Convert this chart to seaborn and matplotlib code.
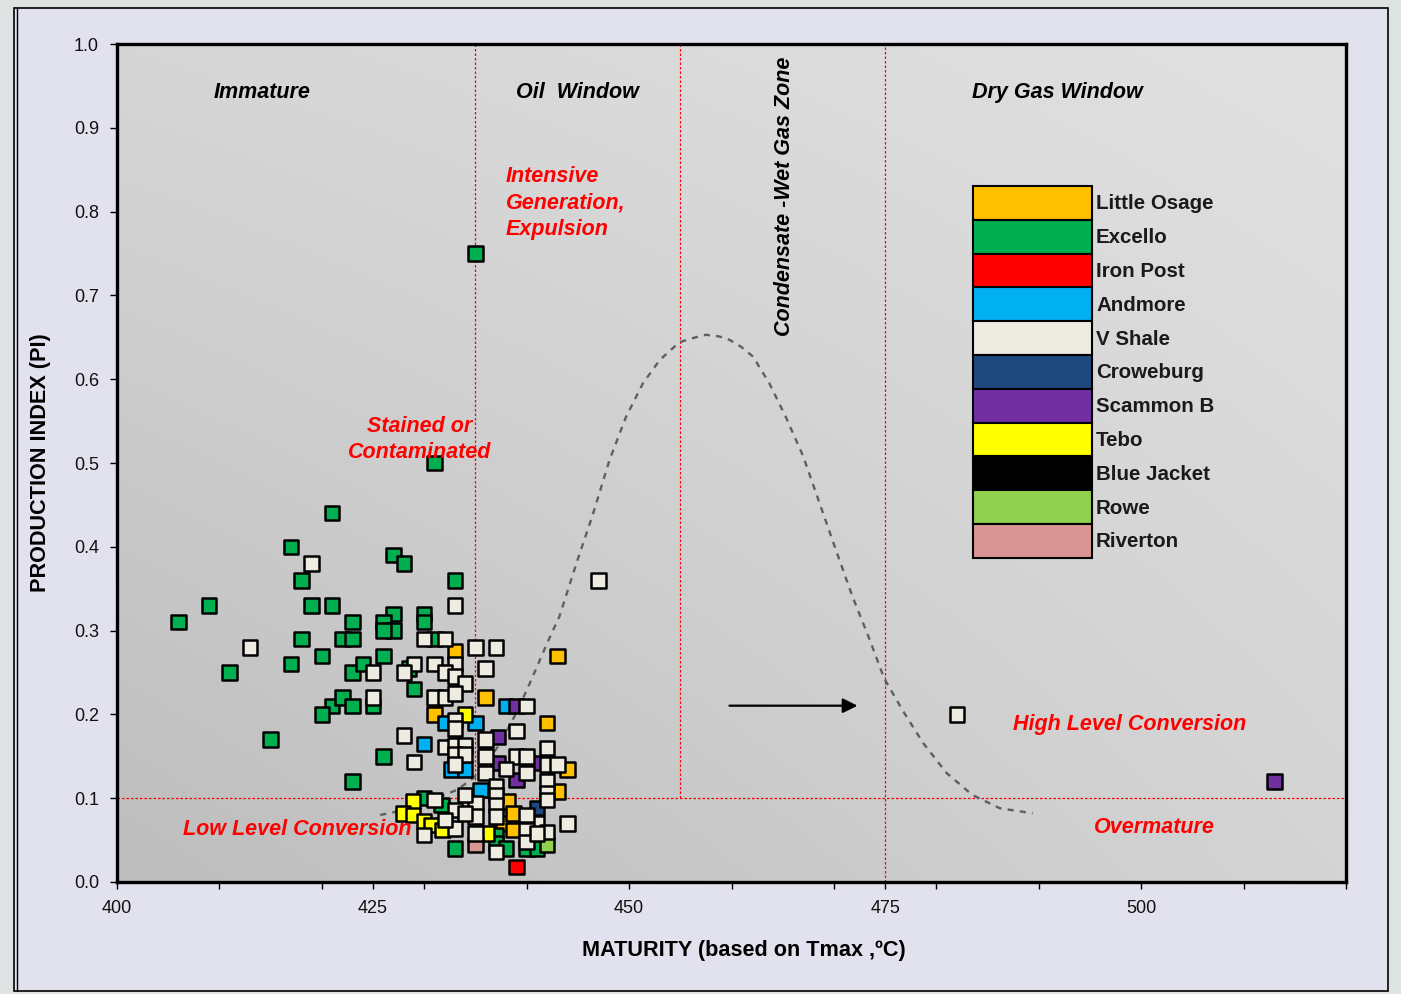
import numpy as np
import pandas as pd
import matplotlib
matplotlib.use("Agg")
import matplotlib.pyplot as plt
from matplotlib.patches import Patch, Rectangle
from matplotlib.lines import Line2D
import seaborn as sns

# ---------------- data ----------------
formations = ["Little Osage", "Excello", "Iron Post", "Andmore", "V Shale", "Croweburg",
              "Scammon B", "Tebo", "Blue Jacket", "Rowe", "Riverton"]
formation_colors = ["#FFC000", "#00B050", "#FF0000", "#00B0F0", "#EEECE1", "#1F497D",
                    "#7030A0", "#FFFF00", "#000000", "#92D050", "#D99694"]

little_osage_tmax = [443, 433, 431, 436, 442, 444, 443, 438.2, 437.7, 438.7, 438.7]
little_osage_pi = [0.27, 0.275, 0.20, 0.22, 0.19, 0.134, 0.108, 0.096, 0.07, 0.082, 0.062]

excello_tmax = [421, 417, 418, 419, 421, 409, 406, 423, 418, 422, 423, 420, 417, 411, 423, 424,
                426, 421, 422, 423, 420, 425, 415, 426, 423, 435, 431, 433, 427, 428, 427, 426,
                427, 426, 430, 430, 431, 429, 430, 431.7, 433, 437, 437, 438, 440, 441, 428.5]
excello_pi = [0.44, 0.40, 0.36, 0.33, 0.33, 0.33, 0.31, 0.31, 0.29, 0.29, 0.29, 0.27, 0.26, 0.25,
              0.25, 0.26, 0.27, 0.21, 0.22, 0.21, 0.20, 0.21, 0.17, 0.15, 0.12, 0.75, 0.50, 0.36,
              0.39, 0.38, 0.32, 0.31, 0.30, 0.30, 0.32, 0.31, 0.29, 0.23, 0.10, 0.092, 0.04, 0.056,
              0.046, 0.04, 0.04, 0.04, 0.255]

iron_post_tmax = [439]
iron_post_pi = [0.018]

andmore_tmax = [438, 432, 435, 430, 432.6, 434, 435.5]
andmore_pi = [0.21, 0.19, 0.19, 0.165, 0.134, 0.134, 0.11]

v_shale_tmax = [419, 413, 425, 425, 433, 447, 482, 430, 432, 435, 437, 429, 428, 431, 433, 432,
                436, 433, 434, 431, 432, 433, 433, 433, 440, 439, 436, 428, 442, 432, 433, 434,
                429, 433, 434, 433, 436, 436, 439, 440, 438, 440, 442, 442, 442, 442, 443, 444,
                441, 442, 440, 440, 440, 437, 437, 437, 437, 437, 435, 435, 435, 433, 433, 432,
                434, 434, 431, 430, 441]
v_shale_pi = [0.38, 0.28, 0.25, 0.22, 0.33, 0.36, 0.20, 0.29, 0.29, 0.28, 0.28, 0.26, 0.25, 0.26,
              0.26, 0.25, 0.255, 0.245, 0.237, 0.22, 0.22, 0.225, 0.193, 0.183, 0.21, 0.18, 0.17,
              0.175, 0.16, 0.161, 0.163, 0.163, 0.143, 0.152, 0.152, 0.14, 0.15, 0.13, 0.15, 0.15,
              0.135, 0.13, 0.14, 0.12, 0.106, 0.098, 0.14, 0.07, 0.07, 0.06, 0.08, 0.062, 0.048,
              0.036, 0.114, 0.104, 0.092, 0.078, 0.094, 0.078, 0.058, 0.086, 0.064, 0.074, 0.104,
              0.082, 0.098, 0.056, 0.058]

croweburg_tmax = [441]
croweburg_pi = [0.088]

scammon_b_tmax = [439, 437.2, 437.2, 439, 440.9, 513]
scammon_b_pi = [0.21, 0.173, 0.142, 0.122, 0.142, 0.12]

tebo_tmax = [434, 428.9, 427.9, 428.9, 430, 430.7, 431.8, 436.1]
tebo_pi = [0.20, 0.096, 0.082, 0.08, 0.072, 0.068, 0.062, 0.058]

blue_jacket_tmax = []
blue_jacket_pi = []

rowe_tmax = [442]
rowe_pi = [0.044]

riverton_tmax = [435]
riverton_pi = [0.044]

# schematic generation curve
curve_tmax = [425.7, 427.3, 430.2, 433.2, 434.9, 436.1, 437.4, 439.0, 440.3, 442.0, 443.2, 444.85,
              446.5, 448.1, 449.7, 451.35, 453.0, 454.9, 456.2, 457.5, 458.8, 459.8, 460.9, 462.1,
              463.7, 465.3, 467.0, 468.6, 470.2, 471.8, 473.5, 474.9, 476.7, 478.7, 481.0, 483.5,
              486.2, 489.4]
curve_pi = [0.080, 0.084, 0.095, 0.110, 0.125, 0.143, 0.165, 0.202, 0.237, 0.285, 0.317, 0.380,
            0.440, 0.504, 0.555, 0.595, 0.623, 0.644, 0.649, 0.653, 0.651, 0.647, 0.639, 0.627,
            0.595, 0.555, 0.508, 0.452, 0.396, 0.341, 0.289, 0.243, 0.205, 0.166, 0.130, 0.104,
            0.088, 0.082]

zone_lines_full = [475]
zone_lines_partial = [435, 455]
pi_threshold = 0.1
arrow_tail = (459.8, 0.2104)
arrow_head = (472.3, 0.2104)

x_ticks = [400, 410, 420, 425, 430, 440, 450, 460, 470, 475, 480, 490, 500, 510, 520]
x_labeled = [400, 425, 450, 475, 500]
y_ticks = [0.0, 0.1, 0.2, 0.3, 0.4, 0.5, 0.6, 0.7, 0.8, 0.9, 1.0]

# ---------------- build table ----------------
series = {
    "Little Osage": (little_osage_tmax, little_osage_pi),
    "Excello": (excello_tmax, excello_pi),
    "Andmore": (andmore_tmax, andmore_pi),
    "Scammon B": (scammon_b_tmax, scammon_b_pi),
    "Tebo": (tebo_tmax, tebo_pi),
    "Rowe": (rowe_tmax, rowe_pi),
    "Riverton": (riverton_tmax, riverton_pi),
    "Croweburg": (croweburg_tmax, croweburg_pi),
    "Iron Post": (iron_post_tmax, iron_post_pi),
    "Blue Jacket": (blue_jacket_tmax, blue_jacket_pi),
    "V Shale": (v_shale_tmax, v_shale_pi),
}
rows = []
for name, (xs, ys) in series.items():
    for xv, yv in zip(xs, ys):
        rows.append({"tmax": xv, "pi": yv, "formation": name})
df = pd.DataFrame(rows)
palette = dict(zip(formations, formation_colors))

# ---------------- style ----------------
sns.set_style("ticks")
plt.rcParams["font.family"] = ["Liberation Sans", "DejaVu Sans"]
plt.rcParams["text.color"] = "black"
plt.rcParams["axes.labelcolor"] = "black"
plt.rcParams["xtick.color"] = "black"
plt.rcParams["ytick.color"] = "black"

fig = plt.figure(figsize=(14.01, 9.94), dpi=100)
fig.patch.set_facecolor("#dde2e2")
fig.patches.append(Rectangle((14 / 1401, 3 / 994), (1388 - 14) / 1401, (986 - 3) / 994,
                             transform=fig.transFigure, facecolor="#e2e2ef",
                             edgecolor="black", linewidth=1.2, zorder=-10))
fig.lines.append(Line2D([16.5 / 1401, 16.5 / 1401], [3 / 994, 986 / 994],
                        transform=fig.transFigure, color="black", linewidth=1.0))

ax = fig.add_axes([117 / 1401, 112 / 994, (1346 - 117) / 1401, (882 - 44) / 994])
ax.set_facecolor("none")

# gradient plot background
u = np.linspace(0, 1, 200)[None, :]
v = np.linspace(0, 1, 200)[:, None]
g = (189 + 25 * v + 23 * u - 12 * u * v) / 255.0
img = np.dstack([g, g, g])
ax.imshow(img, extent=(400, 520, 0, 1), aspect="auto", origin="lower", zorder=0,
          interpolation="bilinear")

# zone lines
red_ls = (0, (2, 1.6))
for xv in zone_lines_full:
    ax.axvline(xv, color="#ff0000", linestyle=red_ls, linewidth=0.9, zorder=1)
ax.vlines(zone_lines_partial, pi_threshold, 1.0, colors="#ff0000", linestyles=[red_ls],
          linewidth=0.9, zorder=1)
ax.axhline(pi_threshold, color="#ff0000", linestyle=red_ls, linewidth=0.9, zorder=1)

# curve
sns.lineplot(x=curve_tmax, y=curve_pi, sort=False, estimator=None, ax=ax, color="#5f5f5f",
             linewidth=1.7, linestyle=(0, (2.6, 2.6)), zorder=2)

# points
sns.scatterplot(data=df, x="tmax", y="pi", hue="formation", palette=palette, marker="s",
                s=108, edgecolor="black", linewidth=1.8, legend=False, ax=ax, zorder=5)

# arrow
ax.annotate("", xy=arrow_head, xytext=arrow_tail,
            arrowprops=dict(arrowstyle="-|>", color="black", lw=1.6, mutation_scale=22,
                            shrinkA=0, shrinkB=0), zorder=6)

ax.set_xlim(400, 520)
ax.set_ylim(0, 1)
ax.set_xticks(x_ticks)
ax.set_xticklabels([str(t) if t in x_labeled else "" for t in x_ticks])
ax.set_yticks(y_ticks)
ax.set_yticklabels([f"{t:.1f}" for t in y_ticks])
ax.tick_params(axis="both", labelsize=13, length=5, width=1.0, color="black",
               labelcolor="#111111", direction="out")
ax.tick_params(axis="x", pad=8)
ax.tick_params(axis="y", pad=8)
for sp in ax.spines.values():
    sp.set_visible(True)
    sp.set_linewidth(2.4)
    sp.set_color("black")
    sp.set_zorder(10)

ax.set_xlabel("MATURITY (based on Tmax ,ºC)", fontsize=15.6, fontweight="bold", color="black")
ax.set_ylabel("PRODUCTION INDEX (PI)", fontsize=15.6, fontweight="bold", color="black")
ax.xaxis.set_label_coords((743.5 - 117) / 1229, (882 - 940) / 838)
ax.yaxis.set_label_coords((51 - 117) / 1229, (882 - 462.5) / 838)

# zone texts
zkw = dict(fontsize=15.5, fontweight="bold", fontstyle="italic", color="black", zorder=8)
ax.text(414.15, 0.9427, "Immature", ha="center", va="center", **zkw)
ax.text(445.0, 0.9427, "Oil  Window", ha="center", va="center", **zkw)
ax.text(491.8, 0.9427, "Dry Gas Window", ha="center", va="center", **zkw)
ax.text(465.17, 0.8186, "Condensate -Wet Gas Zone", ha="center", va="center",
        rotation=90, **zkw)

rkw = dict(fontsize=15.5, fontweight="bold", fontstyle="italic", color="#ff0000", zorder=8,
           linespacing=1.36)
ax.text(437.95, (882 - 203) / 838, "Intensive\nGeneration,\nExpulsion", ha="left",
        va="center", multialignment="left", **rkw)
ax.text(429.56, (882 - 439.5) / 838, "Stained or\nContaminated", ha="center", va="center",
        multialignment="center", **rkw)
ax.text(417.56, 0.0632, "Low Level Conversion", ha="center", va="center", **rkw)
ax.text(498.9, 0.1874, "High Level Conversion", ha="center", va="center", **rkw)
ax.text(501.27, 0.0656, "Overmature", ha="center", va="center", **rkw)

# legend
handles = [Patch(facecolor=palette[n], edgecolor="black", linewidth=1.5) for n in formations]
fs = 14.8
fs_px = fs * 100 / 72
row_px = 33.8
leg = ax.legend(handles, formations, loc="upper left",
                bbox_to_anchor=((973 - 117) / 1229, (882 - 186) / 838),
                frameon=False, borderaxespad=0, borderpad=0, fontsize=fs,
                handlelength=119 / fs_px, handleheight=(row_px / fs_px - 0.245) / 0.65,
                handletextpad=4 / fs_px, labelspacing=0)
for t in leg.get_texts():
    t.set_fontweight("bold")
    t.set_color("#1a1a1a")
leg.set_zorder(9)

fig.savefig("out.png", dpi=100, facecolor=fig.get_facecolor())
